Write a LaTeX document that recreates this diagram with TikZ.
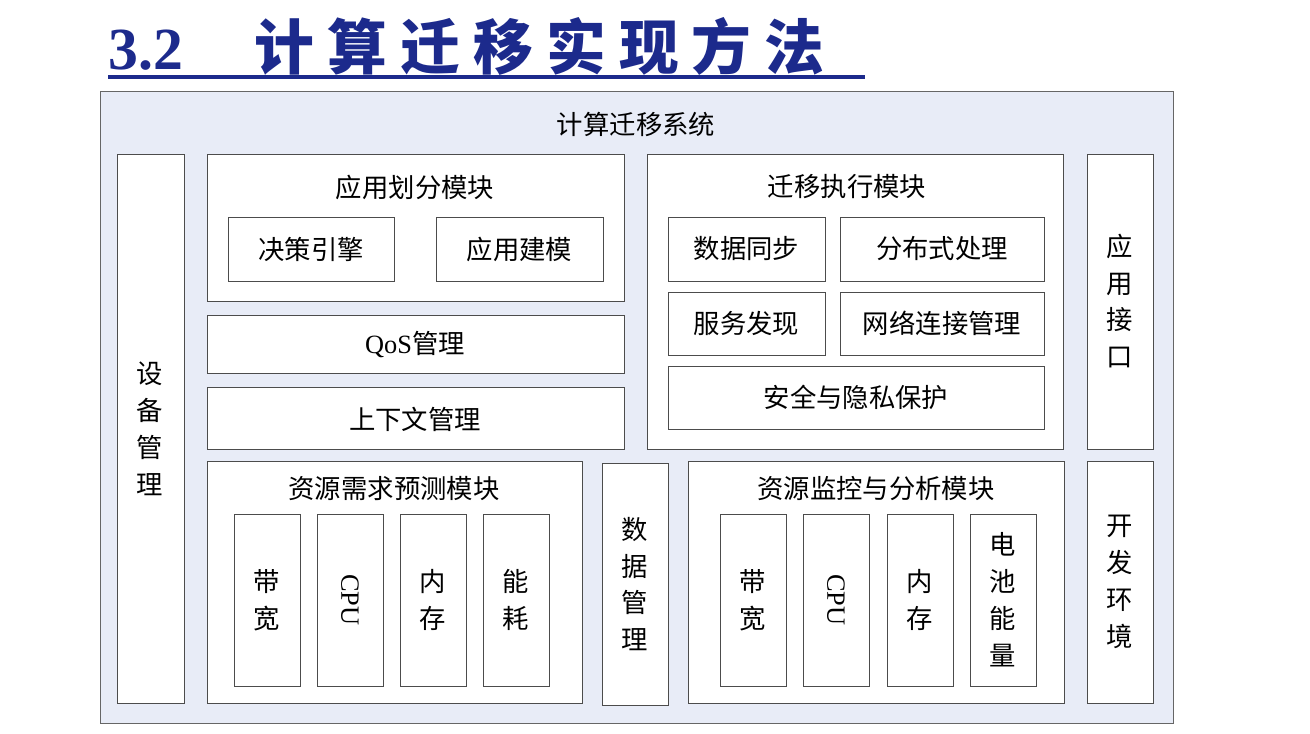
\documentclass[tikz,border=0pt]{standalone}
\usepackage{fontspec}
\setmainfont{Noto Sans CJK SC}
\newfontfamily\latinserif{Liberation Serif}
\definecolor{titleblue}{HTML}{1C2A8C}
\definecolor{panelblue}{HTML}{E8ECF7}
\tikzset{
	box/.style={draw=black!70, fill=white, line width=.5pt},
	lbl/.style={font=\fontsize{15}{18}\selectfont, align=center, inner sep=0pt},
	vlbl/.style={font=\fontsize{15}{21}\selectfont, align=center, inner sep=0pt}
}
\begin{document}
\begin{tikzpicture}[x=0.02cm, y=-0.02cm]
	\useasboundingbox (0,0) rectangle (1310,733);

	% title
	\node[anchor=base west, inner sep=0pt, text=titleblue,
		font=\fontsize{34}{38}\selectfont\bfseries] (title) at (108,70)
		{{\latinserif 3.2}\hspace{1.2em}计\hspace{.22em}算\hspace{.22em}迁\hspace{.22em}移\hspace{.22em}实\hspace{.22em}现\hspace{.22em}方\hspace{.22em}法};
	\draw[titleblue, line width=2.5pt] (108,77) -- (865,77);

	% system frame
	\draw[draw=black!60, fill=panelblue] (100,91) rectangle (1173,723);
	\node[lbl] (sys) at (636,124) {计算迁移系统};

	% side columns
	\draw[box] (117,154) rectangle (184,703);
	\node[vlbl] (dev) at (150,429) {设\\备\\管\\理};
	\draw[box] (1087,154) rectangle (1153,449);
	\node[vlbl] (api) at (1120,301) {应\\用\\接\\口};
	\draw[box] (1087,461) rectangle (1153,703);
	\node[vlbl] (env) at (1120,582) {开\\发\\环\\境};
	\draw[box] (602,463) rectangle (668,705);
	\node[vlbl] (data) at (635,584) {数\\据\\管\\理};

	% application partition
	\draw[box] (207,154) rectangle (624,301);
	\node[lbl] (part) at (415,187) {应用划分模块};
	\foreach \name/\xa/\xb/\txt in {dec/228/394/决策引擎, mod/436/603/应用建模}{
		\draw[box] (\xa,217) rectangle (\xb,281);
		\node[lbl] (\name) at ({(\xa+\xb)/2},249) {\txt};
	}
	\draw[box] (207,315) rectangle (624,373);
	\node[lbl] (qos) at (415,345) {{\latinserif QoS}管理};
	\draw[box] (207,387) rectangle (624,449);
	\node[lbl] (ctx) at (415,419) {上下文管理};

	% migration execution
	\draw[box] (647,154) rectangle (1063,449);
	\node[lbl] (exec) at (847,187) {迁移执行模块};
	\foreach \name/\xa/\ya/\xb/\yb/\txt in {
		sync/668/217/825/281/数据同步,
		dist/840/217/1044/281/分布式处理,
		disc/668/292/825/355/服务发现,
		net/840/292/1044/355/网络连接管理,
		sec/668/366/1044/429/安全与隐私保护}{
		\draw[box] (\xa,\ya) rectangle (\xb,\yb);
		\node[lbl] (\name) at ({(\xa+\xb)/2},{(\ya+\yb)/2}) {\txt};
	}

	% resource prediction
	\draw[box] (207,461) rectangle (582,703);
	\node[lbl] (pred) at (394,489) {资源需求预测模块};
	% resource monitoring
	\draw[box] (688,461) rectangle (1064,703);
	\node[lbl] (mon) at (876,489) {资源监控与分析模块};

	\foreach \name/\xa/\txt in {
		pbw/234/带\\宽, pmem/400/内\\存, pen/483/能\\耗,
		mbw/720/带\\宽, mmem/887/内\\存, mbat/970/电\\池\\能\\量}{
		\draw[box] (\xa,514) rectangle ({\xa+66},686);
		\node[vlbl] (\name) at ({\xa+33},600) {\txt};
	}
	\foreach \name/\xa in {pcpu/317, mcpu/803}{
		\draw[box] (\xa,514) rectangle ({\xa+66},686);
		\node[lbl, rotate=-90] (\name) at ({\xa+33},600) {\latinserif CPU};
	}
\end{tikzpicture}
\end{document}
